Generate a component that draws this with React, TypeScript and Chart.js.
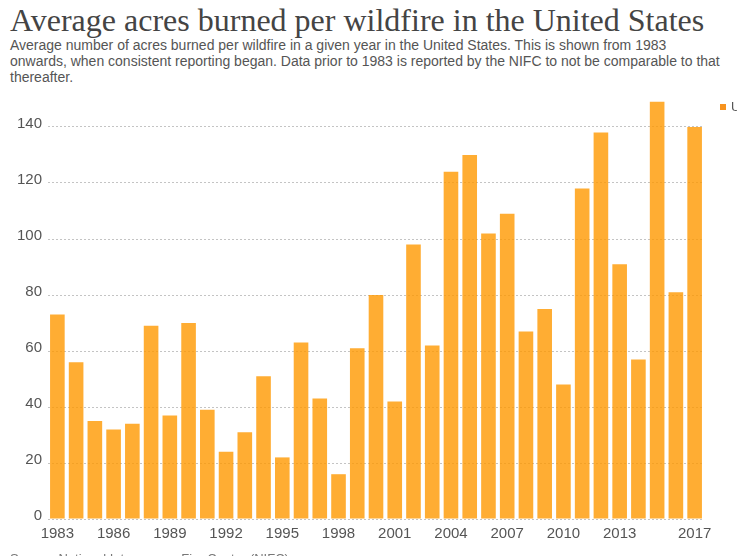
import { useEffect, useRef } from "react"
import { Chart, registerables } from "chart.js"

Chart.register(...registerables)

const years = [
  "1983", "1984", "1985", "1986", "1987", "1988", "1989", "1990", "1991", "1992",
  "1993", "1994", "1995", "1996", "1997", "1998", "1999", "2000", "2001", "2002",
  "2003", "2004", "2005", "2006", "2007", "2008", "2009", "2010", "2011", "2012",
  "2013", "2014", "2015", "2016", "2017",
]

const acresPerFire = [
  73, 56, 35, 32, 34, 69, 37, 70, 39, 24,
  31, 51, 22, 63, 43, 16, 61, 80, 42, 98,
  62, 124, 130, 102, 109, 67, 75, 48, 118, 138,
  91, 57, 149, 81, 140,
]

const seriesName = "United States"
const shownYears = ["1983", "1986", "1989", "1992", "1995", "1998", "2001", "2004", "2007", "2010", "2013", "2017"]

const sans = "'Liberation Sans', Arial, sans-serif"

// legend drawn by hand so it can run off the right edge like the original
const sideLegend = {
  id: "sideLegend",
  afterDraw(chart: Chart) {
    const ctx = chart.ctx
    ctx.save()
    ctx.fillStyle = "#f7931e"
    ctx.fillRect(720, 14, 6, 6)
    ctx.fillStyle = "#555"
    ctx.font = `13px ${sans}`
    ctx.textBaseline = "middle"
    ctx.fillText(chart.data.datasets[0].label ?? "", 731, 17)
    ctx.restore()
  },
}

export default function App() {
  const chartRef = useRef<HTMLCanvasElement>(null)
  const chartInstance = useRef<Chart | null>(null)

  useEffect(() => {
    document.body.style.margin = "0"
    if (!chartRef.current) return
    if (chartInstance.current) chartInstance.current.destroy()

    const ctx = chartRef.current.getContext("2d")
    if (!ctx) return

    chartInstance.current = new Chart(ctx, {
      type: "bar",
      data: {
        labels: years,
        datasets: [
          {
            label: seriesName,
            data: acresPerFire,
            backgroundColor: "rgba(255, 153, 0, 0.8)",
            borderWidth: 0,
            barPercentage: 0.78,
            categoryPercentage: 1,
          },
        ],
      },
      plugins: [sideLegend],
      options: {
        animation: false,
        responsive: true,
        maintainAspectRatio: false,
        layout: { padding: { top: 9, right: 33, left: 0, bottom: 0 } },
        plugins: {
          legend: { display: false },
          tooltip: { enabled: false },
        },
        scales: {
          x: {
            grid: { display: false, drawTicks: false },
            border: { display: false },
            afterFit: (scale) => {
              scale.height = 37
              scale.paddingLeft = 0
              scale.paddingRight = 0
            },
            ticks: {
              autoSkip: false,
              maxRotation: 0,
              padding: 6,
              color: "#555",
              font: { family: sans, size: 15 },
              callback: (_v, i) => (shownYears.includes(years[i]) ? years[i] : ""),
            },
          },
          y: {
            min: 0,
            max: 150,
            border: { display: false, dash: [2, 2] },
            afterFit: (scale) => {
              scale.width = 48
              scale.paddingTop = 0
              scale.paddingBottom = 0
            },
            afterBuildTicks: (scale) => {
              scale.ticks = scale.ticks.filter((t) => t.value % 20 === 0)
            },
            grid: {
              color: "#c4c4c4",
              drawTicks: false,
              lineWidth: 1,
            },
            ticks: {
              stepSize: 20,
              padding: 6,
              labelOffset: -3,
              color: "#555",
              font: { family: sans, size: 15 },
            },
          },
        },
      },
    })

    return () => {
      if (chartInstance.current) {
        chartInstance.current.destroy()
        chartInstance.current = null
      }
    }
  }, [])

  return (
    <div style={{ position: "relative", width: 737, height: 556, overflow: "hidden", background: "#fff" }}>
      <div
        style={{
          position: "absolute",
          left: 10,
          top: 2,
          fontFamily: "'Liberation Serif', 'DejaVu Serif', serif",
          fontSize: 32,
          color: "#444",
          whiteSpace: "nowrap",
          lineHeight: "36px",
        }}
      >
        Average acres burned per wildfire in the United States
      </div>
      <div
        style={{
          position: "absolute",
          left: 10,
          top: 37,
          fontFamily: sans,
          fontSize: 14,
          color: "#555",
          whiteSpace: "nowrap",
          lineHeight: "16px",
        }}
      >
        Average number of acres burned per wildfire in a given year in the United States. This is shown from 1983
        <br />
        onwards, when consistent reporting began. Data prior to 1983 is reported by the NIFC to not be comparable to that
        <br />
        thereafter.
      </div>
      <div style={{ position: "absolute", left: 0, top: 90, width: 737, height: 466 }}>
        <canvas ref={chartRef} aria-label="Average acres burned per wildfire chart"></canvas>
      </div>
      <div
        style={{
          position: "absolute",
          left: 10,
          top: 551,
          fontFamily: sans,
          fontSize: 13,
          color: "#777",
          whiteSpace: "nowrap",
        }}
      >
        Source: National Interagency Fire Center (NIFC)
      </div>
    </div>
  )
}
